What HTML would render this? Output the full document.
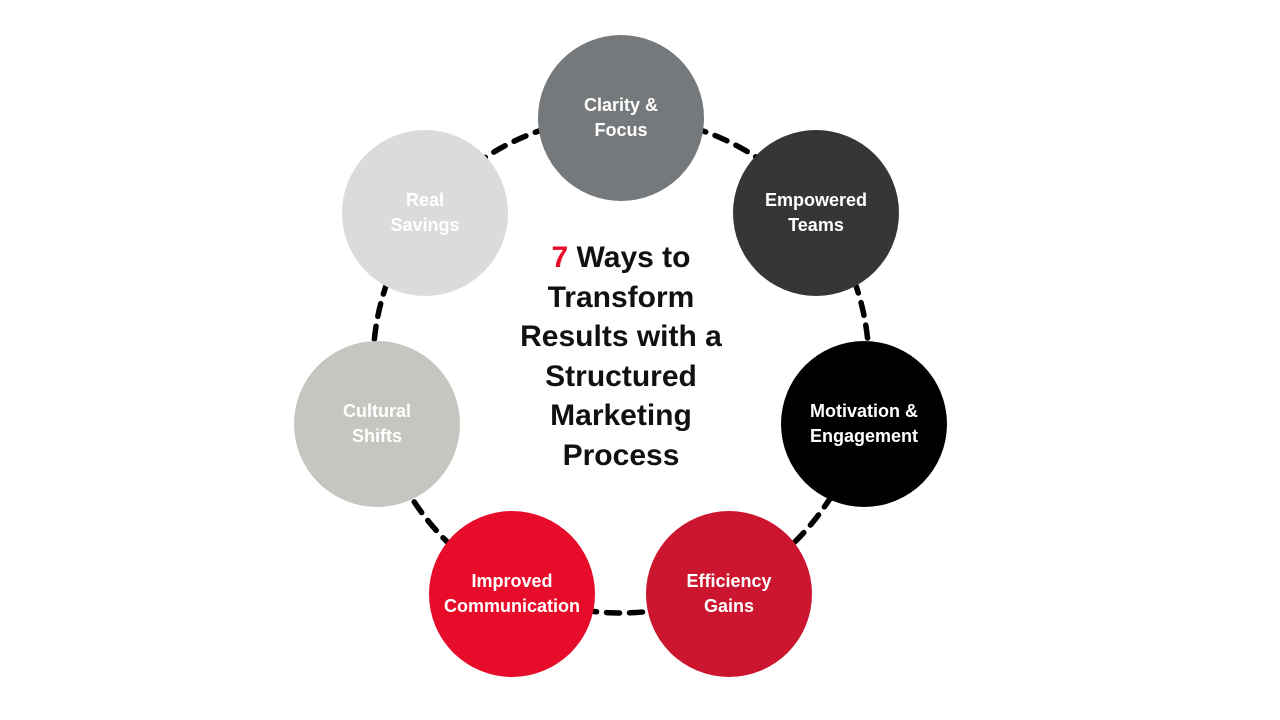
<!DOCTYPE html>
<html><head><style>
body{margin:0;width:1280px;height:720px;background:#fff;overflow:hidden;position:relative;font-family:"Liberation Sans",sans-serif}
.c{position:absolute;width:166px;height:166px;border-radius:50%;display:flex;align-items:center;justify-content:center;text-align:center;color:#fff;font-weight:bold;font-size:18px;line-height:25px}
.t{position:absolute;left:470px;top:238px;width:302px;text-align:center;font-weight:bold;font-size:30px;line-height:39.5px;color:#111}
</style></head><body>
<svg width="1280" height="720" style="position:absolute;left:0;top:0">
<circle cx="621" cy="365" r="248" fill="none" stroke="#000" stroke-width="5.5" stroke-dasharray="13 10" stroke-linecap="round"/>
</svg>
<div class="c" style="left:538px;top:35px;background:#76797b">Clarity &amp;<br>Focus</div>
<div class="c" style="left:733px;top:130px;background:#363636">Empowered<br>Teams</div>
<div class="c" style="left:781px;top:341px;background:#000">Motivation &amp;<br>Engagement</div>
<div class="c" style="left:646px;top:511px;background:#cc1630">Efficiency<br>Gains</div>
<div class="c" style="left:429px;top:511px;background:#e80c2b">Improved<br>Communication</div>
<div class="c" style="left:294px;top:341px;background:#c6c5c0">Cultural<br>Shifts</div>
<div class="c" style="left:342px;top:130px;background:#d9dcdb">Real<br>Savings</div>
<div class="t"><span style="color:#e80c2b">7</span> Ways to<br>Transform<br>Results with a<br>Structured<br>Marketing<br>Process</div>
</body></html>
